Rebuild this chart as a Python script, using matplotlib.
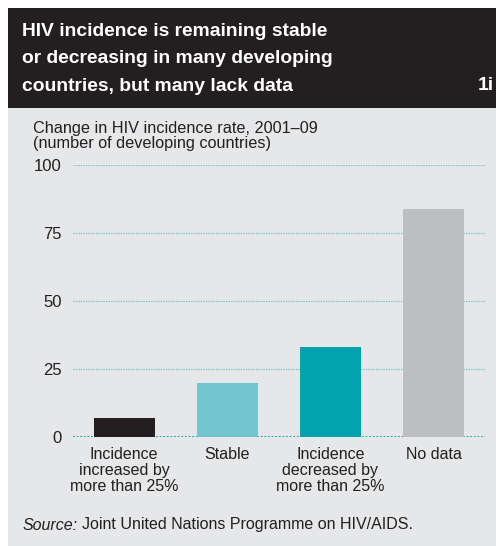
import matplotlib
matplotlib.use("Agg")
import matplotlib.pyplot as plt
from matplotlib.patches import Rectangle

plt.rcParams["font.family"] = ["Liberation Sans", "DejaVu Sans"]

categories = ["Incidence\nincreased by\nmore than 25%", "Stable",
              "Incidence\ndecreased by\nmore than 25%", "No data"]
values = [7, 20, 33, 84]
bar_colors = ["#231f20", "#73c6d0", "#00a3ae", "#bcbec0"]
yticks = [0, 25, 50, 75, 100]

title_lines = ["HIV incidence is remaining stable",
               "or decreasing in many developing",
               "countries, but many lack data"]
W, H = 496, 546
fig = plt.figure(figsize=(W / 100, H / 100), dpi=100)
fig.patch.set_facecolor("white")

def fx(px):
    return px / W

def fy(py):
    return 1 - py / H

# header and panel
fig.patches.append(Rectangle((fx(8), fy(108)), fx(488), 100 / H, transform=fig.transFigure,
                             facecolor="#231f20", edgecolor="none", zorder=-10))
fig.patches.append(Rectangle((fx(8), 0), fx(488), fy(108), transform=fig.transFigure,
                             facecolor="#e6e7e8", edgecolor="none", zorder=-10))

for i, line in enumerate(title_lines):
    fig.text(fx(22), fy(31 + i * 27.7), line, color="white", fontsize=13.9,
             fontweight="bold", va="center", ha="left")
fig.text(fx(494), fy(86), "1i", color="white", fontsize=13.9, fontweight="bold",
         va="center", ha="right")

fig.text(fx(33), fy(128), "Change in HIV incidence rate, 2001\u201309", fontsize=11.7,
         color="#231f20", va="center", ha="left")
fig.text(fx(33), fy(143.5), "(number of developing countries)", fontsize=11.7,
         color="#231f20", va="center", ha="left")

ax = fig.add_axes([fx(72.7), fy(437), fx(485 - 72.7), (437 - 165) / H])
ax.set_facecolor("none")
x = range(len(values))
for t in yticks:
    if t == 0:
        ax.axhline(t, color="#00a3ae", linestyle=(0, (1, 1)), linewidth=1.3, zorder=1)
    else:
        ax.axhline(t, color="#6cc2cb", linestyle=(0, (1, 1)), linewidth=0.9, zorder=1)
ax.bar(x, values, width=0.59, color=bar_colors, zorder=2)
ax.set_xlim(-0.5, 3.5)
ax.set_ylim(0, 100)
ax.set_yticks(yticks)
ax.set_yticklabels([str(t) for t in yticks])
ax.set_xticks(list(x))
ax.set_xticklabels(categories, linespacing=1.07)
for s in ax.spines.values():
    s.set_visible(False)
ax.tick_params(axis="y", length=0, pad=8, labelsize=12, labelcolor="#231f20")
ax.tick_params(axis="x", length=0, pad=7.5, labelsize=11.5, labelcolor="#231f20")

fig.text(fx(23), fy(525), "Source:", fontsize=11.5, style="italic", color="#231f20",
         va="center", ha="left")
fig.text(fx(82), fy(525), "Joint United Nations Programme on HIV/AIDS.", fontsize=11.5,
         color="#231f20", va="center", ha="left")

fig.savefig("out.png", dpi=100, facecolor=fig.get_facecolor())
